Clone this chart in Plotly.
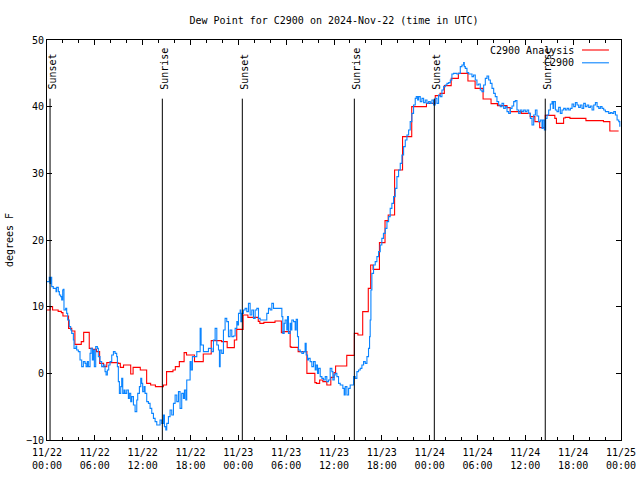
import pandas as pd
import plotly.graph_objects as go

BASE = pd.Timestamp("2024-11-22 00:00")

# Analysis (red), hours since 2024-11-22 00:00 UTC, step values (deg F)
red_hours = [0.0, 0.4, 0.7, 1.4, 1.8, 2.0, 2.7, 3.1, 3.5, 4.3, 4.6, 5.3, 5.7, 6.2, 6.6, 7.1, 7.5,
             8.9, 9.2, 9.6, 10.5, 10.8, 11.7, 12.5, 13.0, 13.6, 14.6, 15.0, 15.8, 16.1, 16.6, 17.2,
             17.5, 18.5, 19.6, 20.6, 21.9, 22.6, 23.5, 23.8, 24.6, 25.2, 26.5, 26.7, 27.2, 28.6,
             29.4, 29.6, 30.5, 30.6, 31.5, 32.6, 33.6, 33.8, 34.2, 34.6, 35.1, 35.6, 36.0, 36.2,
             37.6, 38.55, 39.0, 39.6, 40.3, 40.6, 40.9, 41.7, 42.4, 42.8, 43.6, 44.6, 45.75, 47.6,
             48.7, 49.3, 49.84, 50.7, 51.6, 52.8, 53.7, 54.7, 55.7, 56.5, 57.7, 58.1, 59.5, 60.6,
             61.2, 61.8, 62.5, 63.7, 63.9, 64.8, 65.0, 65.6, 67.6, 69.8, 70.6, 71.7]
red_vals = [9.5, 10.0, 9.5, 9.3, 9.1, 8.6, 6.75, 6.35, 4.35, 4.75, 6.15, 3.75, 3.6, 3.25, 1.5, 1.0, 1.6,
            1.5, 0.9, 1.25, -0.1, 0.9, 0.5, -1.5, -1.75, -2.0, -1.75, 0.25, 0.5, 1.0, 1.75, 3.1,
            2.75, 1.75, 2.9, 4.9, 4.75, 3.85, 5.0, 6.6, 8.75, 8.4, 7.8, 7.5, 7.65, 7.85,
            6.1, 6.25, 4.0, 3.9, 3.25, 0.0, -1.4, -1.5, -1.0, -1.25, -1.75, -0.6, 0.1, 1.1,
            2.7, 6.0, 5.75, 9.25, 12.75, 16.25, 15.6, 19.6, 22.9, 23.75, 30.5, 35.5, 40.0, 40.5,
            41.65, 42.0, 43.15, 44.25, 45.0, 43.85, 42.75, 41.15, 40.45, 40.15, 39.85, 39.25, 39.0, 38.5,
            37.75, 36.85, 38.7, 38.25, 37.5, 38.3, 38.4, 38.25, 37.9, 37.75, 36.35, 36.35]

# Observations (blue)
blue_hours = [0.0, 0.29, 0.38, 0.46, 0.59, 0.79, 1.0, 1.13, 1.21, 1.42, 1.55, 1.72, 1.84, 1.97, 2.05,
              2.13, 2.34, 2.47, 2.59, 2.80, 2.97, 3.10, 3.31, 3.39, 3.64, 3.72, 3.93, 4.14, 4.35,
              4.56, 4.77, 4.90, 5.06, 5.19, 5.40, 5.52, 5.69, 5.82, 5.94, 6.11, 6.32, 6.44, 6.65,
              6.86, 7.07, 7.28, 7.41, 7.57, 7.74, 7.91, 8.12, 8.33, 8.54, 8.74, 8.83, 8.95, 9.08,
              9.25, 9.37, 9.5, 9.67, 9.79, 10.0, 10.21, 10.33, 10.5, 10.63, 10.84, 11.05, 11.26,
              11.38, 11.59, 11.76, 11.88, 12.0, 12.18, 12.3, 12.51, 12.72, 12.93, 13.14, 13.35,
              13.56, 13.77, 14.1, 14.18, 14.39, 14.6, 14.73, 14.9, 15.02, 15.23, 15.44, 15.65,
              15.86, 16.07, 16.28, 16.49, 16.69, 16.9, 17.11, 17.24, 17.41, 17.53, 17.74, 17.95,
              18.08, 18.24, 18.58, 18.79, 19.0, 19.21, 19.33, 19.62, 20.04, 20.25, 20.67, 20.88,
              21.09, 21.3, 21.51, 21.63, 21.72, 21.92, 22.13, 22.34, 22.55, 22.76, 22.97, 23.18,
              23.39, 23.6, 23.81, 23.89, 24.02, 24.23, 24.31, 24.44, 24.64, 24.85, 25.06, 25.27,
              25.48, 25.69, 25.9, 26.11, 26.32, 26.53, 26.74, 27.15, 27.57, 27.78, 27.99, 28.2,
              28.41, 29.25, 29.46, 29.58, 29.75, 29.87, 30.08, 30.17, 30.29, 30.5, 30.59, 30.71,
              30.92, 31.13, 31.26, 31.42, 31.55, 31.76, 31.97, 32.18, 32.38, 32.51, 32.68, 32.8,
              33.01, 33.22, 33.43, 33.64, 33.77, 33.93, 34.06, 34.27, 34.48, 34.69, 34.9, 35.1,
              35.31, 35.52, 35.73, 35.86, 36.03, 36.15, 36.36, 36.57, 36.78, 36.99, 37.11, 37.28,
              37.41, 37.62, 37.83, 38.03, 38.24, 38.45, 38.66, 38.87, 39.08, 39.29, 39.5, 39.71,
              39.92, 40.13, 40.33, 40.46, 40.54, 40.63, 40.75, 40.96, 41.17, 41.38, 41.59, 41.8,
              42.0, 42.2, 42.43, 42.64, 42.85, 43.05, 43.26, 43.47, 43.68, 43.89, 44.1, 44.31,
              44.52, 44.73, 44.94, 45.15, 45.36, 45.56, 45.77, 45.98, 46.19, 46.32, 46.49, 46.61,
              46.82, 47.03, 47.24, 47.45, 47.66, 47.87, 48.08, 48.28, 48.49, 48.7, 48.91, 49.12,
              49.33, 49.54, 49.75, 49.96, 50.17, 50.38, 50.59, 50.79, 51.0, 51.42, 51.63, 51.84,
              52.05, 52.26, 52.34, 52.47, 52.68, 52.89, 53.1, 53.31, 53.51, 53.72, 53.93, 54.14,
              54.35, 54.56, 54.77, 54.98, 55.19, 55.4, 55.61, 55.82, 56.03, 56.23, 56.44, 56.65,
              56.86, 57.07, 57.28, 57.49, 57.7, 57.91, 58.12, 58.33, 58.54, 58.74, 58.95, 59.16,
              59.37, 59.58, 59.79, 60.0, 60.21, 60.42, 60.63, 60.84, 61.05, 61.26, 61.46, 61.67,
              61.88, 62.09, 62.22, 62.39, 62.55, 62.72, 62.93, 63.14, 63.35, 63.47, 63.56, 63.77,
              63.97, 64.18, 64.39, 64.6, 64.81, 65.02, 65.23, 65.44, 65.65, 65.86, 66.07, 66.28,
              66.49, 66.69, 66.9, 67.11, 67.32, 67.53, 67.74, 67.95, 68.16, 68.37, 68.58, 68.79,
              69.0, 69.21, 69.41, 69.62, 69.83, 70.04, 70.25, 70.46, 70.67, 70.88, 71.09, 71.3,
              71.51, 71.72, 71.85]
blue_vals = [13.75, 14.4, 13.5, 14.4, 13.0, 12.75, 12.75, 12.25, 12.9, 12.25, 11.75, 11.5, 11.0, 12.5, 12.6,
             9.5, 9.75, 9.0, 8.0, 7.0, 6.5, 6.0, 5.0, 3.75, 4.1, 3.5, 3.25, 2.0, 1.0,
             1.75, 1.5, 1.0, 1.75, 1.0, 3.0, 3.75, 2.0, 3.5, 1.0, 4.0, 3.75, 2.5, 1.75,
             1.0, 1.25, 0.25, -0.25, 0.5, 1.25, 1.75, 2.75, 3.25, 3.0, 2.5, 1.0, -1.25, -3.0,
             -2.0, -0.75, -3.0, -2.5, -3.0, -2.5, -3.75, -3.0, -4.25, -3.5, -4.75, -5.75, -4.0,
             -3.0, -2.0, -0.75, -1.5, -2.75, -2.0, -3.0, -4.25, -4.5, -5.25, -6.0, -6.75,
             -7.25, -7.75, -7.75, -7.0, -7.5, -6.25, -8.0, -8.5, -7.5, -6.5, -5.5, -6.25,
             -4.5, -3.25, -4.25, -2.75, -5.25, -3.0, -3.75, -2.5, -4.0, -1.0, -1.0, 1.75,
             0.5, 2.5, 2.5, 3.25, 3.25, 6.75, 4.25, 3.25, 3.25, 3.75, 3.25, 5.0,
             6.75, 4.25, 3.5, 1.0, 3.5, 3.0, 6.5, 8.25, 7.75, 5.5, 6.5, 5.5,
             5.6, 6.75, 7.75, 7.25, 9.0, 9.5, 7.75, 9.0, 9.5, 9.75, 9.25, 10.5,
             8.75, 9.5, 8.25, 9.5, 9.75, 8.25, 8.0, 8.0, 9.0, 9.75, 9.5, 10.5,
             9.75, 9.75, 8.5, 6.0, 7.5, 8.0, 6.5, 8.5, 6.0, 7.5, 6.5, 8.0,
             7.75, 6.5, 8.1, 5.5, 3.5, 3.25, 3.0, 3.25, 4.5, 2.75, 2.0, 2.25,
             1.75, 1.0, 1.75, 0.5, 1.25, 0.0, 0.75, -0.5, -0.75, -1.0, -0.5, -1.25,
             -1.0, 0.75, 0.25, -1.0, -0.25, 0.0, -0.5, -1.5, -1.75, -1.75, -2.25, -3.25,
             -2.0, -3.25, -2.25, -1.75, -1.75, -0.5, -0.75, 0.25, 0.5, 0.75, 1.25, 1.75,
             1.5, 2.5, 3.75, 5.5, 8.0, 12.5, 15.0, 16.25, 16.75, 17.5, 18.25, 19.25,
             20.25, 21.0, 21.75, 22.75, 23.5, 24.75, 25.5, 26.5, 27.75, 29.5, 30.5, 31.5,
             32.75, 34.0, 35.0, 35.75, 36.5, 37.75, 39.0, 40.25, 41.25, 41.5, 41.0, 41.5,
             40.75, 41.25, 40.6, 41.0, 40.5, 40.75, 40.5, 41.0, 40.25, 41.25, 40.5, 41.75,
             41.5, 42.5, 43.0, 43.25, 43.5, 43.6, 44.0, 44.9, 45.0, 44.9, 45.0, 46.0,
             46.25, 46.6, 46.0, 45.75, 45.1, 44.9, 44.9, 44.5, 44.75, 44.0, 43.25, 43.4,
             42.5, 42.25, 43.25, 44.25, 44.6, 44.0, 43.5, 42.75, 42.0, 41.5, 40.75, 40.25,
             40.0, 40.5, 39.75, 40.0, 39.25, 39.0, 39.75, 40.1, 40.75, 40.9, 39.5, 39.0,
             39.5, 39.25, 39.5, 39.25, 39.5, 39.0, 38.25, 37.25, 38.75, 39.5, 38.6, 37.75,
             38.0, 36.75, 38.0, 36.5, 38.25, 38.75, 39.5, 40.4, 40.75, 39.75, 40.75, 39.5,
             39.25, 39.9, 39.0, 39.5, 39.75, 39.5, 39.75, 39.5, 39.75, 40.4, 40.0, 40.6,
             40.25, 39.9, 40.25, 39.75, 40.5, 40.0, 40.25, 39.9, 40.1, 39.5, 40.25, 40.6,
             40.0, 39.75, 40.0, 39.75, 39.5, 39.25, 39.25, 39.0, 39.1, 39.0, 39.25, 38.75,
             38.0, 37.75, 37.0]

event_labels = ["Sunset", "Sunrise", "Sunset", "Sunrise", "Sunset", "Sunrise"]
event_times = ["2024-11-22 00:23", "2024-11-22 14:28", "2024-11-23 00:30",
               "2024-11-23 14:33", "2024-11-24 00:35", "2024-11-24 14:30"]

tick_times = ["2024-11-22 00:00", "2024-11-22 06:00", "2024-11-22 12:00", "2024-11-22 18:00",
              "2024-11-23 00:00", "2024-11-23 06:00", "2024-11-23 12:00", "2024-11-23 18:00",
              "2024-11-24 00:00", "2024-11-24 06:00", "2024-11-24 12:00", "2024-11-24 18:00",
              "2024-11-25 00:00"]
tick_text = ["11/22<br>00:00", "11/22<br>06:00", "11/22<br>12:00", "11/22<br>18:00",
             "11/23<br>00:00", "11/23<br>06:00", "11/23<br>12:00", "11/23<br>18:00",
             "11/24<br>00:00", "11/24<br>06:00", "11/24<br>12:00", "11/24<br>18:00",
             "11/25<br>00:00"]

RED = "#ff0000"
BLUE = "#0a84ff"
FONT = "DejaVu Sans Mono"

red_t = BASE + pd.to_timedelta(red_hours, unit="h")
blue_t = BASE + pd.to_timedelta(blue_hours, unit="h")

fig = go.Figure()
fig.add_trace(go.Scatter(x=red_t, y=red_vals, mode="lines", line=dict(color=RED, width=1.1, shape="hv"),
                         name="C2900 Analysis", showlegend=False))
fig.add_trace(go.Scatter(x=blue_t, y=blue_vals, mode="lines", line=dict(color=BLUE, width=1.1, shape="hv"),
                         name="C2900", showlegend=False))

for lab, t in zip(event_labels, event_times):
    fig.add_shape(type="line", x0=t, x1=t, y0=-10, y1=41.2, xref="x", yref="y",
                  line=dict(color="black", width=1))
    fig.add_annotation(x=t, y=42.2, xref="x", yref="y", text=lab, textangle=-90,
                       showarrow=False, xanchor="center", yanchor="bottom", xshift=1.5,
                       font=dict(family=FONT, size=10, color="black"))

# legend (gnuplot style: text then line sample)
for i, (name, col) in enumerate([("C2900 Analysis", RED), ("C2900", BLUE)]):
    yp = 0.975 - i * 0.032
    fig.add_annotation(x=0.918, y=yp, xref="paper", yref="paper", text=name, showarrow=False,
                       xanchor="right", yanchor="middle", xshift=2,
                       font=dict(family=FONT, size=10, color="black"))
    fig.add_shape(type="line", x0=0.932, x1=0.979, y0=yp, y1=yp, xref="paper", yref="paper",
                  line=dict(color=col, width=1.1))

fig.add_annotation(x=-0.066, y=0.5, xref="paper", yref="paper", text="degrees F", textangle=-90,
                   showarrow=False, xanchor="center", yanchor="middle",
                   font=dict(family=FONT, size=10, color="black"))

fig.update_layout(
    width=640, height=480,
    margin=dict(l=47, r=19, t=40, b=40, autoexpand=False),
    paper_bgcolor="white", plot_bgcolor="white",
    title=dict(text="Dew Point for C2900 on 2024-Nov-22 (time in UTC)", x=0.5, xref="paper",
               y=0.958, yref="container", yanchor="middle", xanchor="center",
               font=dict(family=FONT, size=10, color="black")),
    font=dict(family=FONT, size=10, color="black"),
)
fig.update_xaxes(type="date", range=["2024-11-22 00:00", "2024-11-25 00:00"], automargin=False,
                 tickvals=tick_times, ticktext=tick_text, ticks="inside", ticklen=5,
                 ticklabelstandoff=3,
                 tickcolor="black", showline=True, linecolor="black", linewidth=1, mirror="ticks",
                 showgrid=False, zeroline=False,
                 minor=dict(dtick=2 * 3600 * 1000, tick0="2024-11-22", ticks="inside", ticklen=3,
                            tickcolor="black", showgrid=False),
                 tickfont=dict(family=FONT, size=10, color="black"))
fig.update_yaxes(range=[-10, 50], dtick=10, ticks="inside", ticklen=5, tickcolor="black",
                 automargin=False,
                 showline=True, linecolor="black", linewidth=1, mirror="ticks",
                 showgrid=False, zeroline=False,
                 tickfont=dict(family=FONT, size=10, color="black"))

fig.write_html("out.html", config={"displayModeBar": False},
               post_script="document.body.style.margin='0';document.body.style.padding='0';")
